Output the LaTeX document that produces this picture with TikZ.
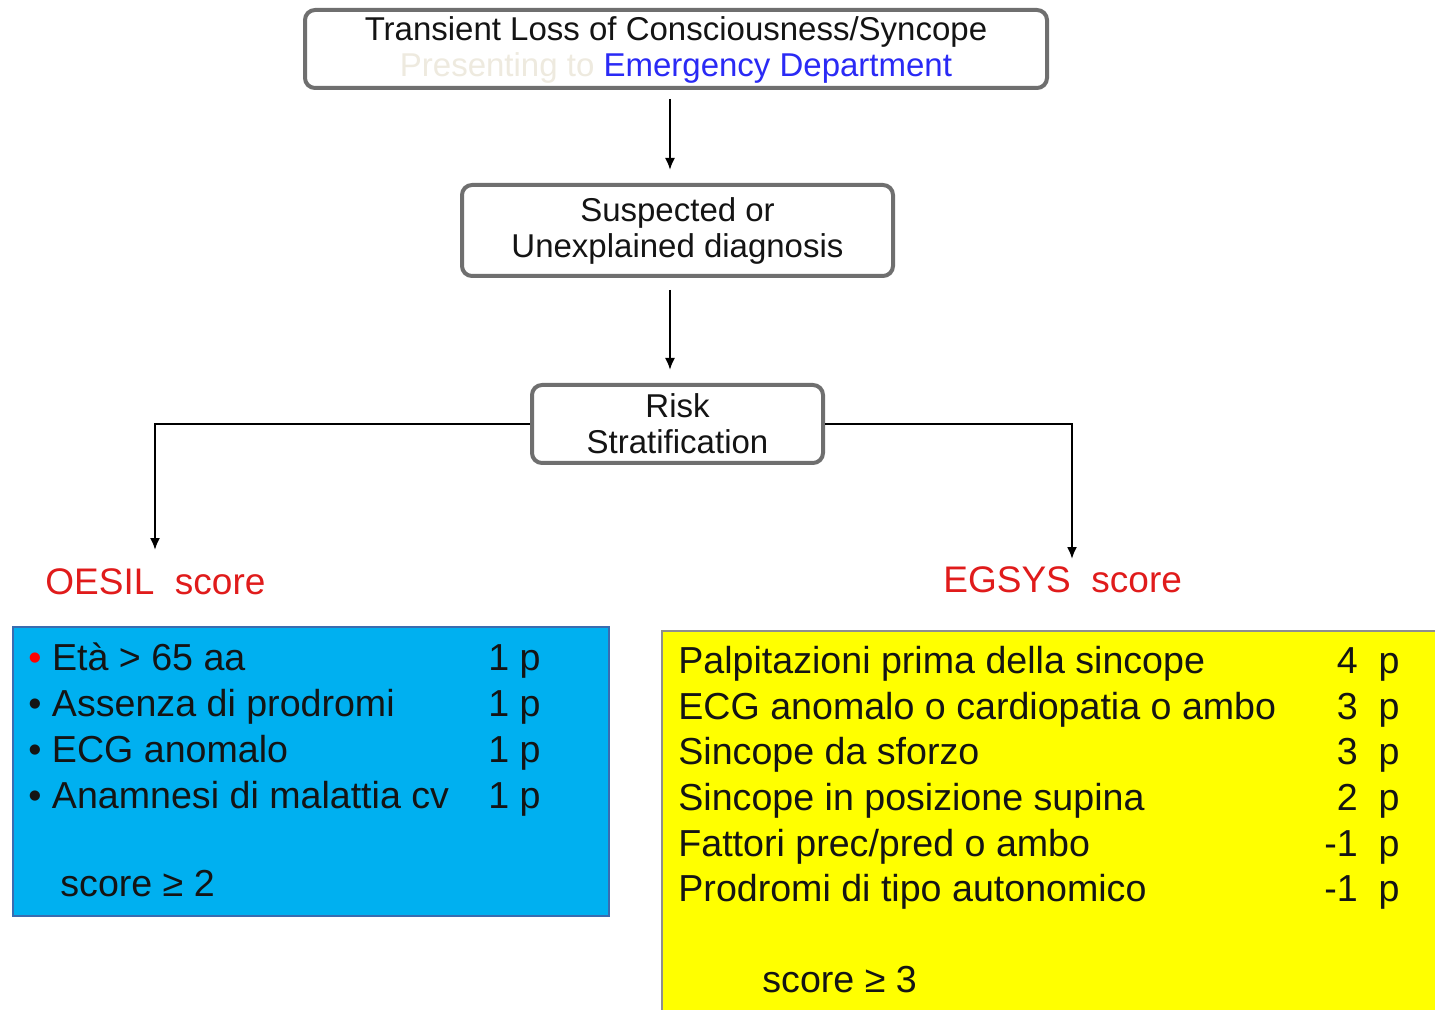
\documentclass[tikz,border=0pt]{standalone}
\usepackage{fontspec}
\setmainfont{Liberation Sans}
\usetikzlibrary{arrows.meta,positioning}
\definecolor{boxgray}{HTML}{6F6F6F}
\definecolor{edblue}{HTML}{2A2AF5}
\definecolor{paletext}{HTML}{EEEADF}
\definecolor{scorered}{HTML}{E01B1B}
\definecolor{oesilfill}{HTML}{00B0F0}
\definecolor{oesilline}{HTML}{3A6CB0}
\definecolor{egsysfill}{HTML}{FFFF00}
\definecolor{egsysline}{HTML}{8E8E8E}
\definecolor{textblack}{HTML}{141414}

\tikzset{
  flowbox/.style={draw=boxgray, line width=2pt, rounded corners=5pt, fill=white,
    align=center, inner sep=0pt, text=textblack,
    font=\fontsize{16.5}{18}\selectfont},
  flowarrow/.style={-{Latex[length=6pt,width=5pt]}, line width=1pt},
  scoretitle/.style={anchor=base west, inner sep=0pt, text=scorered,
    font=\fontsize{18.5}{20}\selectfont},
  rowtext/.style={anchor=base west, inner sep=0pt, text=textblack,
    font=\fontsize{18.8}{20}\selectfont},
  pointtext/.style={rowtext, anchor=base east},
}

\begin{document}
\begin{tikzpicture}[x=0.5pt, y=-0.5pt]
    \useasboundingbox (0,0) rectangle (1435,1010);
    \clip (0,0) rectangle (1435,1010);

    % flow boxes
    \node[flowbox, minimum width=371pt, minimum height=39pt, text depth=2pt] (tloc) at (676,49)
        {Transient Loss of Consciousness/Syncope\\
         {\color{paletext}Presenting to} {\color{edblue}Emergency Department}};
    \node[flowbox, minimum width=215.5pt, minimum height=45.5pt] (suspect) at (677.5,230.5)
        {Suspected or\\ Unexplained diagnosis};
    \node[flowbox, minimum width=145.5pt, minimum height=39pt] (risk) at (677.5,424)
        {Risk\\ Stratification};

    \draw[flowarrow, shorten <=4.5pt, shorten >=6.5pt]
        ([xshift=-3pt]tloc.south) -- ([xshift=-3pt]tloc.south |- suspect.north);
    \draw[flowarrow, shorten <=6pt, shorten >=6.5pt]
        ([xshift=-3.75pt]suspect.south) -- ([xshift=-3.75pt]risk.north);

    \coordinate (oesilTip) at (155,550);
    \coordinate (egsysTip) at (1072,559);
    \draw[flowarrow] (risk.west) -| (oesilTip);
    \draw[flowarrow] (risk.east) -| (egsysTip);

    \node[scoretitle] (oesilTitle) at (45,594) {OESIL\ \ score};
    \node[scoretitle] (egsysTitle) at (943,592) {EGSYS\ \ score};

    % OESIL score box
    \node[draw=oesilline, line width=0.8pt, fill=oesilfill, inner sep=0pt,
          minimum width=298pt, minimum height=144.5pt] (oesil) at (311,771.5) {};
    \node[rowtext] (oesilItem1) at (28,670) {{\color{red}•} Età > 65 aa};
    \node[rowtext] (oesilItem2) at (28,716) {• Assenza di prodromi};
    \node[rowtext] (oesilItem3) at (28,762) {• ECG anomalo};
    \node[rowtext] (oesilItem4) at (28,808) {• Anamnesi di malattia cv};
    \foreach \i in {1,...,4}
        \node[rowtext] (oesilPts\i) at (488,624+46*\i) {1 p};
    \node[rowtext] (oesilScore) at (60,896) {score ≥ 2};

    % EGSYS score box
    \node[draw=egsysline, line width=0.8pt, fill=egsysfill, inner sep=0pt,
          minimum width=394pt, minimum height=199.5pt] (egsys) at (1056,830.5) {};
    \foreach \txt/\pts [count=\i] in {Palpitazioni prima della sincope/4,
            ECG anomalo o cardiopatia o ambo/3, Sincope da sforzo/3,
            Sincope in posizione supina/2, Fattori prec\slash pred o ambo/-1,
            Prodromi di tipo autonomico/-1} {
        \node[rowtext] (egsysItem\i) at (678,628+45.6*\i) {\txt};
        \node[pointtext] (egsysPts\i) at (1400,628+45.6*\i) {\pts\ \ p};
    }
    \node[rowtext] (egsysScore) at (762,992) {score ≥ 3};
\end{tikzpicture}
\end{document}
